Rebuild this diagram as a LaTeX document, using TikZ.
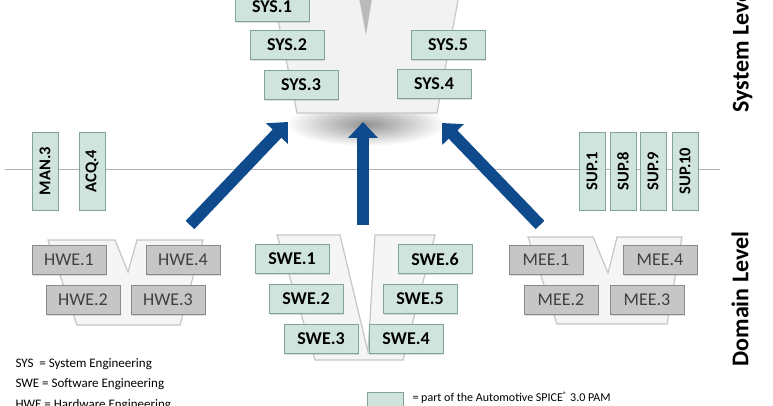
\documentclass[tikz,border=0pt]{standalone}
\usepackage{fontspec}
\setmainfont{Carlito}
\usepackage{xcolor}
\usetikzlibrary{shapes.geometric, arrows.meta, positioning, shadows, calc, backgrounds}

\definecolor{pamfill}{RGB}{207,228,220}
\definecolor{pamline}{RGB}{128,163,156}
\definecolor{othfill}{RGB}{198,198,198}
\definecolor{othline}{RGB}{138,138,138}
\definecolor{othtext}{RGB}{64,64,64}
\definecolor{arrowblue}{RGB}{14,74,140}

\tikzset{
  pambox/.style={draw=pamline, fill=pamfill, line width=0.8pt, inner sep=0pt,
    minimum width=74pt, minimum height=29pt, font=\fontsize{18}{18}\selectfont\bfseries,
    drop shadow={shadow xshift=1.2pt, shadow yshift=-1.2pt, opacity=0.25}},
  othbox/.style={pambox, draw=othline, fill=othfill, text=othtext,
    font=\fontsize{18}{18}\selectfont},
  supbox/.style={pambox, rotate=90, minimum width=78pt, minimum height=26pt,
    font=\fontsize{16.5}{16.5}\selectfont\bfseries},
  vshape/.style={fill=gray!8, draw=gray!45, line width=1.2pt},
  bigarrow/.style={draw=arrowblue, line width=12pt, -{Triangle[length=16pt,width=29pt]}},
  legend/.style={anchor=west, font=\fontsize{13}{14}\selectfont},
  levelname/.style={rotate=90, font=\fontsize{24}{24}\selectfont\bfseries},
}

\begin{document}
\begin{tikzpicture}[x=1pt,y=-1pt]
    \useasboundingbox (0,0) rectangle (773,406);

    % System level V
    \shade[inner color=gray!85, outer color=white] (366,124) ellipse (80 and 22);
    \draw[vshape, fill=gray!10] (273,-5) -- (297,113) -- (437,113) -- (459,-5)
        -- (372,-5) -- (366,32) -- (359,-5) -- cycle;
    \fill[gray!55] (359,-5) -- (366,32) -- (372,-5) -- cycle;

    \node[pambox] (sys1) at (272,7) {SYS.1};
    \node[pambox] (sys2) at (287,45) {SYS.2};
    \node[pambox] (sys3) at (301,85) {SYS.3};
    \node[pambox] (sys5) at (448,45) {SYS.5};
    \node[pambox] (sys4) at (434,84) {SYS.4};

    % Support processes line
    \draw[gray!60, line width=1pt] (5,170) -- (720,170);
    \node[supbox] (man3) at (45,171) {MAN.3};
    \node[supbox] (acq4) at (92,171) {ACQ.4};
    \node[supbox] (sup1) at (592,171) {SUP.1};
    \node[supbox] (sup8) at (623,171) {SUP.8};
    \node[supbox] (sup9) at (653,171) {SUP.9};
    \node[supbox] (sup10) at (685,171) {SUP.10};

    % Domain level V's
    \draw[vshape] (48,240) -- (115,240) -- (128,272) -- (137,240) -- (203,240)
        -- (180,325) -- (77,325) -- cycle;
    \draw[vshape] (277,235) -- (340,235) -- (368,352) -- (375,235) -- (435,235)
        -- (403,360) -- (315,360) -- cycle;
    \draw[vshape] (528,237) -- (593,237) -- (608,273) -- (617,237) -- (682,237)
        -- (667,324) -- (557,324) -- cycle;

    \node[othbox] (hwe1) at (69,260) {HWE.1};
    \node[othbox] (hwe4) at (183,260) {HWE.4};
    \node[othbox] (hwe2) at (83,300) {HWE.2};
    \node[othbox] (hwe3) at (168,300) {HWE.3};

    \node[pambox] (swe1) at (292,259) {SWE.1};
    \node[pambox] (swe6) at (435,259) {SWE.6};
    \node[pambox] (swe2) at (306,299) {SWE.2};
    \node[pambox] (swe5) at (420,299) {SWE.5};
    \node[pambox] (swe3) at (321,339) {SWE.3};
    \node[pambox] (swe4) at (406,339) {SWE.4};

    \node[othbox] (mee1) at (546,260) {MEE.1};
    \node[othbox] (mee4) at (660,260) {MEE.4};
    \node[othbox] (mee2) at (561,300) {MEE.2};
    \node[othbox] (mee3) at (647,300) {MEE.3};

    % Arrows up to the system level
    \coordinate (hweout) at (190,225);
    \coordinate (sweout) at (363,225);
    \coordinate (meeout) at (540,225);
    \coordinate (sysinl) at (288,122);
    \coordinate (sysinm) at (363,122);
    \coordinate (sysinr) at (442,123);
    \draw[bigarrow] (hweout) -- (sysinl);
    \draw[bigarrow] (sweout) -- (sysinm);
    \draw[bigarrow] (meeout) -- (sysinr);

    % Level names
    \node[levelname, anchor=west] (syslevel) at (742,116) {System Level};
    \node[levelname] (domlevel) at (740,299) {Domain Level};

    % Legend
    \node[legend] (legsys) at (12,364) {SYS\ \ = System Engineering};
    \node[legend] (legswe) at (12,384) {SWE = Software Engineering};
    \node[legend] (leghwe) at (12,405) {HWE = Hardware Engineering};
    \node[pambox, minimum width=36pt, minimum height=20pt] (legpam) at (385,402) {};
    \node[legend, font=\fontsize{12}{13}\selectfont] (legpamtext) at (409,398)
        {= part of the Automotive SPICE\textsuperscript{\textregistered} 3.0 PAM};
\end{tikzpicture}
\end{document}
